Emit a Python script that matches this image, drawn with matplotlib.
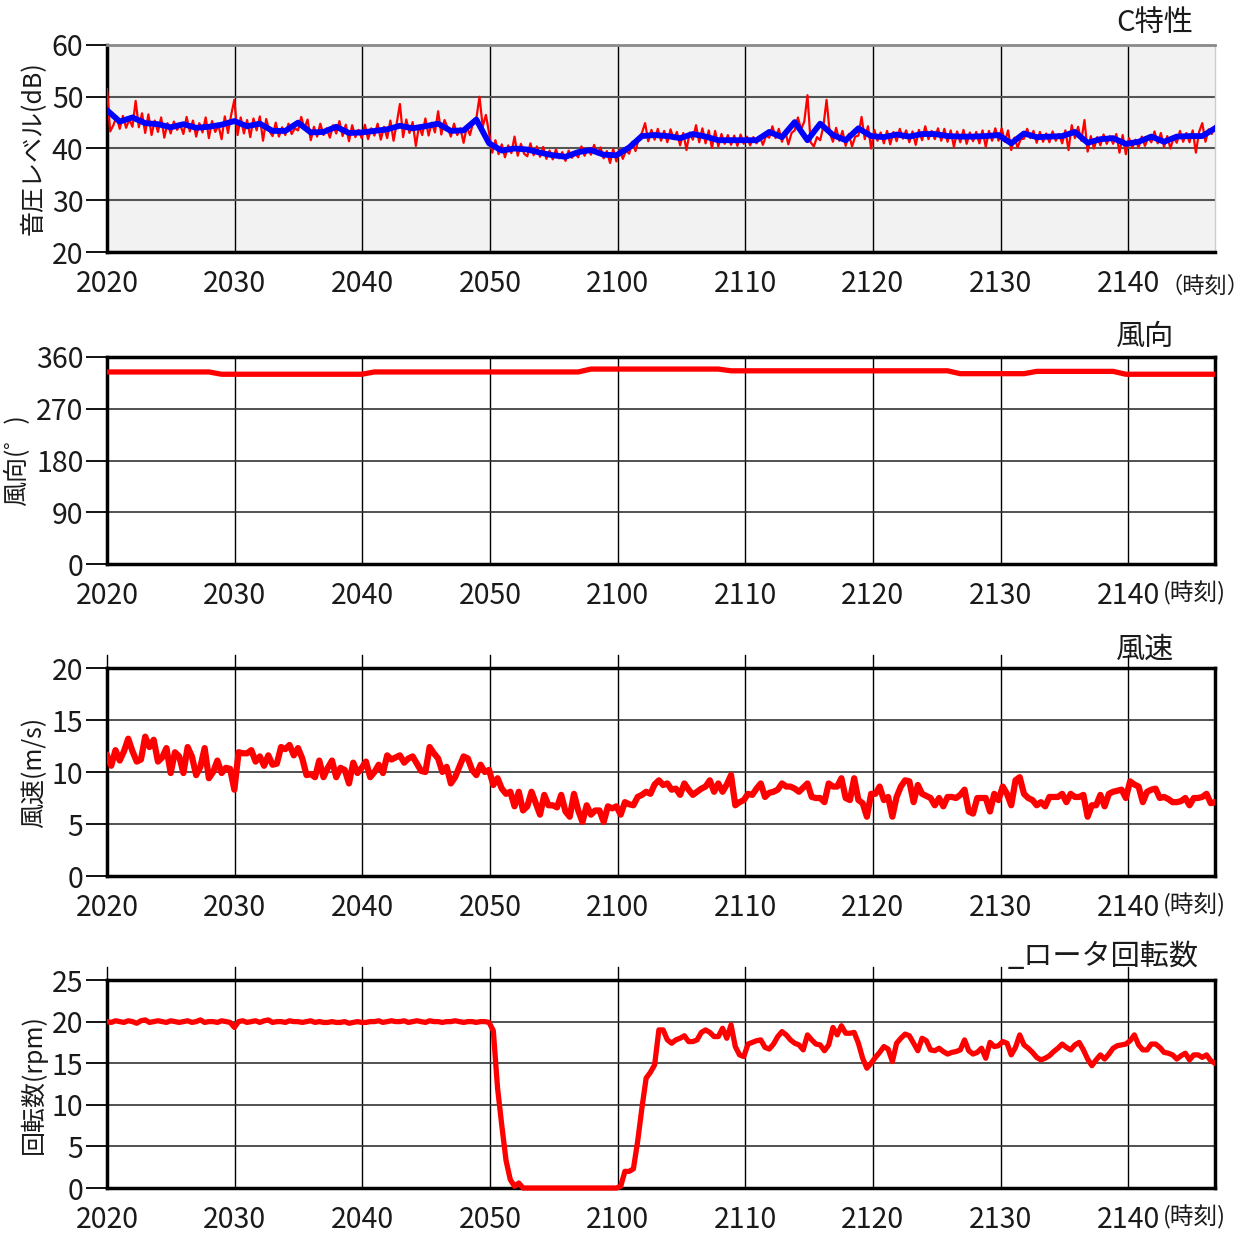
import numpy as np
import matplotlib
matplotlib.use("Agg")
import matplotlib.pyplot as plt
from matplotlib.transforms import Bbox, TransformedBbox

plt.rcParams['font.family'] = ['Noto Sans CJK JP', 'DejaVu Sans']

W, H = 1257, 1236
T_END = 86.8   # minutes after 20:20

time_ticks  = [0, 10, 20, 30, 40, 50, 60, 70, 80]
time_labels = ["2020", "2030", "2040", "2050", "2100", "2110", "2120", "2130", "2140"]

# C-weighted sound pressure level, 15 s values (dB)
spl_raw = [
    51.5, 43.3, 44.5, 46.2,
    43.8, 46.3, 44.0, 45.6,
    44.2, 49.2, 44.1, 46.8,
    43.0, 46.6, 42.6, 45.4,
    43.2, 46.0, 42.1, 44.9,
    42.9, 45.2, 43.6, 44.6,
    42.8, 46.1, 43.3, 45.4,
    42.3, 44.9, 43.1, 46.0,
    42.0, 45.3, 43.2, 44.5,
    41.8, 46.2, 43.0, 46.5,
    49.4, 42.6, 46.0, 42.9,
    45.5, 42.2, 45.8, 43.5,
    46.2, 41.5, 45.7, 43.4,
    42.4, 45.0, 42.3, 44.1,
    42.6, 44.8, 42.8, 43.9,
    43.5, 46.1, 43.9, 45.6,
    41.6, 44.2, 42.3, 44.8,
    42.6, 43.9, 42.1, 44.5,
    42.9, 45.3, 42.4, 44.6,
    41.4, 44.5, 42.2, 43.6,
    42.0, 44.6, 41.8, 43.9,
    42.5, 44.8, 41.7, 44.2,
    42.0, 45.4, 41.5, 44.9,
    48.6, 42.2, 45.6, 43.0,
    45.1, 40.5, 44.4, 42.6,
    45.8, 42.5, 45.0, 43.1,
    47.2, 42.7, 45.5, 44.0,
    42.3, 44.8, 42.6, 43.9,
    41.1, 44.2, 42.6, 45.1,
    45.8, 50.0, 44.2, 46.5,
    43.0, 39.2, 41.6, 38.9,
    40.8, 38.3, 40.6, 39.1,
    42.3, 38.6, 40.9, 39.0,
    38.5, 41.0, 38.7, 40.4,
    38.4, 40.3, 38.0, 39.6,
    37.9, 39.8, 38.1, 39.3,
    37.6, 39.6, 38.2, 39.0,
    38.3, 40.4, 38.6, 40.1,
    38.8, 40.7, 38.9, 40.2,
    38.1, 39.5, 37.2, 39.9,
    37.5, 39.8, 38.0, 39.6,
    39.0, 41.3, 39.5, 42.0,
    43.0, 44.9, 41.4, 43.6,
    41.7, 43.8, 41.5, 43.4,
    41.2, 43.7, 41.8, 43.2,
    40.6, 43.0, 39.7, 43.1,
    41.7, 44.5, 41.2, 43.9,
    41.0, 43.5, 40.1, 43.4,
    40.4, 42.8, 40.9, 42.6,
    40.7, 42.5, 40.5, 42.7,
    40.9, 42.3, 40.6, 42.2,
    41.0, 42.4, 40.7, 42.5,
    42.1, 44.3, 42.0, 43.8,
    41.3, 43.4, 40.8, 43.0,
    43.5, 46.0, 43.7, 45.2,
    50.3, 41.2, 40.4, 42.2,
    41.6, 44.3, 49.4, 43.0,
    41.3, 44.0, 41.5, 43.4,
    40.5, 42.8, 40.4, 42.3,
    42.5, 46.1, 41.8, 44.3,
    40.0, 43.6, 41.5, 43.1,
    41.0, 43.4, 40.8, 43.2,
    41.4, 43.8, 41.9, 43.5,
    41.2, 43.3, 40.7, 43.6,
    41.6, 44.3, 41.8, 43.4,
    41.8, 43.9, 41.5, 43.8,
    41.3, 43.5, 40.3, 43.3,
    41.2, 43.6, 40.9, 43.1,
    41.4, 43.2, 41.0, 43.5,
    40.3, 43.4, 41.5, 43.9,
    41.5, 43.9, 41.3, 43.5,
    39.7, 42.1, 40.2, 41.8,
    41.9, 43.8, 42.0, 43.4,
    41.1, 43.2, 41.3, 42.9,
    41.2, 43.3, 41.5, 42.8,
    41.0, 43.5, 39.7, 44.5,
    42.0, 44.2, 41.5, 45.5,
    39.4, 42.4, 40.0, 42.2,
    40.6, 42.7, 40.9, 42.4,
    40.9, 42.8, 39.2, 42.6,
    38.9, 42.0, 40.1, 41.7,
    40.2, 42.3, 40.5, 42.1,
    41.2, 43.3, 41.0, 43.0,
    40.3, 42.4, 40.0, 42.1,
    41.1, 43.4, 41.3, 43.0,
    41.2, 43.5, 39.2, 43.2,
    44.9, 41.3, 43.7, 42.8,
    44.3,
]

# 1 minute averages (dB)
spl_avg = [
    47.4, 45.2, 46.0, 44.9, 44.7, 44.1, 44.7, 44.0, 44.2, 44.6,
    45.3, 44.3, 44.8, 43.4, 43.4, 45.0, 43.1, 43.2, 44.2, 43.0,
    43.1, 43.4, 43.7, 44.4, 43.9, 44.3, 44.8, 43.4, 43.5, 45.6,
    41.0, 39.6, 40.0, 39.8, 39.2, 38.7, 38.4, 39.3, 39.7, 38.8,
    38.7, 40.2, 42.4, 42.6, 42.4, 42.0, 42.8, 42.3, 41.6, 41.6,
    41.6, 41.6, 43.2, 42.2, 45.1, 41.6, 44.8, 42.6, 41.6, 43.9,
    42.4, 42.2, 42.7, 42.3, 42.8, 42.8, 42.4, 42.3, 42.3, 42.4,
    42.6, 41.0, 42.9, 42.2, 42.3, 42.4, 43.2, 41.1, 41.8, 42.0,
    40.9, 41.3, 42.3, 41.3, 42.3, 42.4, 42.4, 43.9,
]

# wind direction, 1 minute values (deg)
wind_dir = [334] * 9 + [330] * 12 + [334] * 17 + [339] * 11 + \
           [336] * 18 + [331] * 6 + [335] * 7 + [330] * 8

# wind speed, 20 s values (m/s)
wind_speed = [
    11.6, 10.6, 12.1,  11.1, 12.0, 13.2,  12.0, 11.0, 11.2,  13.4, 12.4, 13.1,
    11.0, 11.4, 12.3,  9.9, 11.9, 11.5,   9.9, 12.4, 11.5,   9.7, 10.5, 12.3,
    9.4, 10.0, 11.1,   9.9, 10.4, 10.3,   8.3, 11.9, 11.8,   11.8, 12.1, 11.0,
    11.5, 10.6, 11.6,  10.7, 10.8, 12.4,  12.2, 12.6, 11.6,  12.3, 11.3, 9.7,
    9.8, 9.5, 11.1,    9.5, 10.4, 11.1,   9.5, 10.4, 10.2,   8.9, 10.9, 9.9,
    10.4, 11.0, 9.5,   10.0, 10.7, 9.9,   11.6, 11.2, 11.4,  11.6, 10.9, 11.3,
    11.5, 10.8, 10.1,  10.0, 12.4, 11.8,  11.3, 10.0, 10.5,  8.9, 9.5, 10.5,
    11.5, 11.3, 10.2,  9.7, 10.7, 10.0,   10.2, 8.75, 9.4,   8.4, 7.9, 8.1,
    6.7, 8.1, 6.3,     6.7, 8.1, 7.0,     5.9, 7.8, 6.8,     6.8, 6.6, 7.8,
    6.2, 5.7, 7.9,     6.3, 5.2, 6.8,     5.9, 6.3, 6.3,     5.2, 6.7, 6.5,
    6.7, 5.9, 7.1,     6.9, 6.8, 7.6,     7.8, 8.1, 7.9,     8.8, 9.2, 8.75,
    8.9, 8.3, 8.4,     7.8, 8.9, 8.3,     7.8, 8.1, 8.4,     8.6, 9.2, 8.1,
    8.9, 8.1, 8.8,     9.7, 6.8, 7.1,     7.3, 7.9, 7.8,     8.4, 8.9, 7.6,
    8.0, 8.1, 8.3,     8.9, 8.6, 8.6,     8.4, 8.1, 8.5,     8.9, 7.6, 7.5,
    7.5, 7.1, 8.9,     8.6, 8.6, 9.4,     7.5, 7.3, 9.4,     7.3, 7.0, 5.7,
    7.9, 7.9, 8.6,     7.3, 7.6, 5.7,     7.6, 8.6, 9.2,     9.1, 7.1, 8.75,
    7.9, 7.7, 7.5,     6.8, 7.5, 6.7,     7.6, 7.6, 7.5,     7.8, 8.3, 6.2,
    6.0, 7.5, 7.5,     7.5, 6.2, 7.9,     7.3, 8.6, 7.9,     6.8, 9.2, 9.5,
    7.9, 7.5, 7.3,     6.8, 7.1, 6.7,     7.6, 7.6, 7.6,     7.9, 7.1, 7.9,
    7.6, 7.6, 7.8,     5.7, 6.8, 6.8,     7.8, 6.7, 7.9,     8.1, 8.2, 8.3,
    7.5, 9.1, 8.8,     8.6, 7.1, 8.1,     8.3, 8.4, 7.5,     7.6, 7.4, 7.1,
    7.1, 7.2, 7.5,     6.8, 7.5, 7.5,     7.6, 7.9, 7.0,
    7.1,
]

# rotor speed, 20 s values (rpm)
rotor_rpm = [
    20.0, 19.9, 20.1,  20.0, 19.9, 20.1,  20.0, 19.8, 20.1,  20.2, 19.9, 20.0,
    20.1, 20.0, 19.9,  20.1, 20.0, 19.9,  20.0, 20.1, 19.9,  20.0, 20.2, 19.9,
    20.0, 20.0, 19.9,  20.1, 20.0, 19.9,  19.3, 20.0, 20.1,  19.9, 20.0, 20.1,
    19.9, 20.1, 20.2,  19.9, 20.0, 20.0,  19.9, 20.1, 20.0,  20.0, 19.9, 20.0,
    20.1, 19.9, 20.0,  19.9, 19.9, 20.0,  19.9, 19.9, 20.0,  19.8, 19.9, 20.0,
    19.9, 19.9, 20.0,  20.0, 20.1, 19.9,  20.0, 20.1, 20.0,  20.0, 20.1, 19.9,
    20.0, 20.1, 20.0,  19.9, 20.1, 20.0,  20.0, 19.9, 20.0,  20.0, 20.1, 20.0,
    19.9, 20.0, 20.0,  19.9, 20.0, 20.0,  19.9, 18.9, 12.0,  7.5, 3.3, 1.0,
    0.2, 0.6, 0.0,     0.0, 0.0, 0.0,     0.0, 0.0, 0.0,     0.0, 0.0, 0.0,
    0.0, 0.0, 0.0,     0.0, 0.0, 0.0,     0.0, 0.0, 0.0,     0.0, 0.0, 0.0,
    0.0, 0.2, 2.0,     2.0, 2.3, 5.6,     9.6, 13.2, 13.9,   14.8, 19.0, 19.0,
    17.8, 17.4, 17.8,  18.0, 18.3, 17.6,  17.6, 17.8, 18.7,  19.0, 18.7, 18.2,
    18.2, 19.2, 18.0,  19.6, 17.0, 16.0,  15.8, 17.3, 17.5,  17.7, 17.8, 16.9,
    16.7, 17.3, 18.2,  18.8, 18.4, 17.8,  17.4, 17.2, 16.6,  18.4, 17.8, 17.3,
    17.2, 16.5, 17.2,  19.3, 18.4, 19.5,  18.6, 18.6, 18.7,  17.4, 15.6, 14.4,
    15.0, 15.7, 16.3,  17.0, 16.7, 15.2,  17.4, 18.0, 18.5,  18.3, 17.4, 16.5,
    18.0, 17.7, 16.6,  16.5, 16.8, 16.4,  16.1, 16.3, 16.4,  16.6, 17.8, 16.5,
    16.1, 16.3, 16.8,  15.6, 17.5, 17.0,  17.1, 17.6, 17.4,  16.0, 16.9, 18.4,
    17.2, 16.8, 16.3,  15.7, 15.4, 15.6,  15.9, 16.4, 16.8,  17.3, 16.9, 16.6,
    17.2, 17.5, 16.6,  15.5, 14.7, 15.4,  16.0, 15.5, 16.1,  16.8, 17.1, 17.2,
    17.3, 17.7, 18.4,  17.2, 16.6, 16.6,  17.3, 17.3, 16.9,  16.3, 16.2, 16.0,
    15.5, 15.9, 16.2,  15.4, 16.0, 16.0,  15.7, 16.0, 15.3,
    15.0,
]


def times(values):
    return np.linspace(0, T_END, len(values))


def add_panel(top, bottom):
    return fig.add_axes([107 / W, 1 - bottom / H, 1108 / W, (bottom - top) / H])


def setup(ax, yticks, ylabel, label_x, hgrid='#333333', hgrid_lw=1.2):
    ax.set_xlim(0, T_END)
    ax.set_ylim(yticks[0], yticks[-1])
    ax.set_yticks(yticks)
    ax.set_xticks(time_ticks)
    ax.set_xticklabels(time_labels)
    ax.tick_params(axis='x', length=0, pad=12, labelsize=20.5, labelcolor='#1a1a1a')
    ax.tick_params(axis='y', length=15, width=1.3, pad=2, labelsize=20.5,
                   labelcolor='#1a1a1a', direction='out')
    ax.xaxis.grid(True, color='black', lw=1.0)
    ax.yaxis.grid(True, color=hgrid, lw=hgrid_lw)
    for s in ax.spines.values():
        s.set_linewidth(2.5)
        s.set_color('black')
    ax.set_ylabel(ylabel, fontsize=18, color='#1a1a1a')
    ax.yaxis.set_label_coords(label_x, 0.5)


def draw(ax, t, y, **kw):
    line, = ax.plot(t, y, solid_joinstyle='round', **kw)
    # let thick lines sit over the spine at the axis limits
    line.set_clip_box(TransformedBbox(Bbox([[0, -0.05], [1, 1.05]]), ax.transAxes))
    return line


fig = plt.figure(figsize=(W / 100, H / 100), dpi=100)

# sound pressure level
ax1 = add_panel(45, 252)
setup(ax1, [20, 30, 40, 50, 60], '音圧レベル(dB)', -0.054, hgrid='#555555', hgrid_lw=1.5)
ax1.set_facecolor('#f2f2f2')
ax1.spines['top'].set_color('#8a8a8a')
ax1.spines['top'].set_linewidth(2)
ax1.spines['right'].set_color('#cccccc')
ax1.spines['right'].set_linewidth(1)
draw(ax1, times(spl_raw), spl_raw, color='#ff0000', lw=1.6, zorder=3)
draw(ax1, times(spl_avg), spl_avg, color='#0000ff', lw=4.2, zorder=4)

# wind direction
ax2 = add_panel(357, 564)
setup(ax2, [0, 90, 180, 270, 360], '風向(゜)', -0.069)
draw(ax2, times(wind_dir), wind_dir, color='#ff0000', lw=3.8, zorder=3)

# wind speed
ax3 = add_panel(668, 876)
setup(ax3, [0, 5, 10, 15, 20], '風速(m/s)', -0.054)
draw(ax3, times(wind_speed), wind_speed, color='#ff0000', lw=4.5, zorder=3)

# rotor speed
ax4 = add_panel(980, 1188)
setup(ax4, [0, 5, 10, 15, 20, 25], '回転数(rpm)', -0.054)
draw(ax4, times(rotor_rpm), rotor_rpm, color='#ff0000', lw=3.8, zorder=3)

# grid lines poke out above the lower two panels
for ax in (ax3, ax4):
    for t in time_ticks:
        ax.axvline(t, ymin=1, ymax=1 + 13 / 208, color='black', lw=1.0, clip_on=False)

# panel titles
fig.text(1116 / W, 1 - 23 / H, 'C特性', fontsize=21, va='center', color='#1a1a1a')
fig.text(1116 / W, 1 - 337 / H, '風向', fontsize=21, va='center', color='#1a1a1a')
fig.text(1116 / W, 1 - 650 / H, '風速', fontsize=21, va='center', color='#1a1a1a')
fig.text(1008 / W, 1 - 957 / H, '_ロータ回転数', fontsize=21, va='center', color='#1a1a1a')

# time unit next to the last tick label
fig.text(1160 / W, 1 - 286 / H, '（時刻）', fontsize=16, va='center', color='#1a1a1a')
for y in (593, 905, 1217):
    fig.text(1163 / W, 1 - y / H, '(時刻)', fontsize=17, va='center', color='#1a1a1a')

fig.savefig('out.png', dpi=100)
